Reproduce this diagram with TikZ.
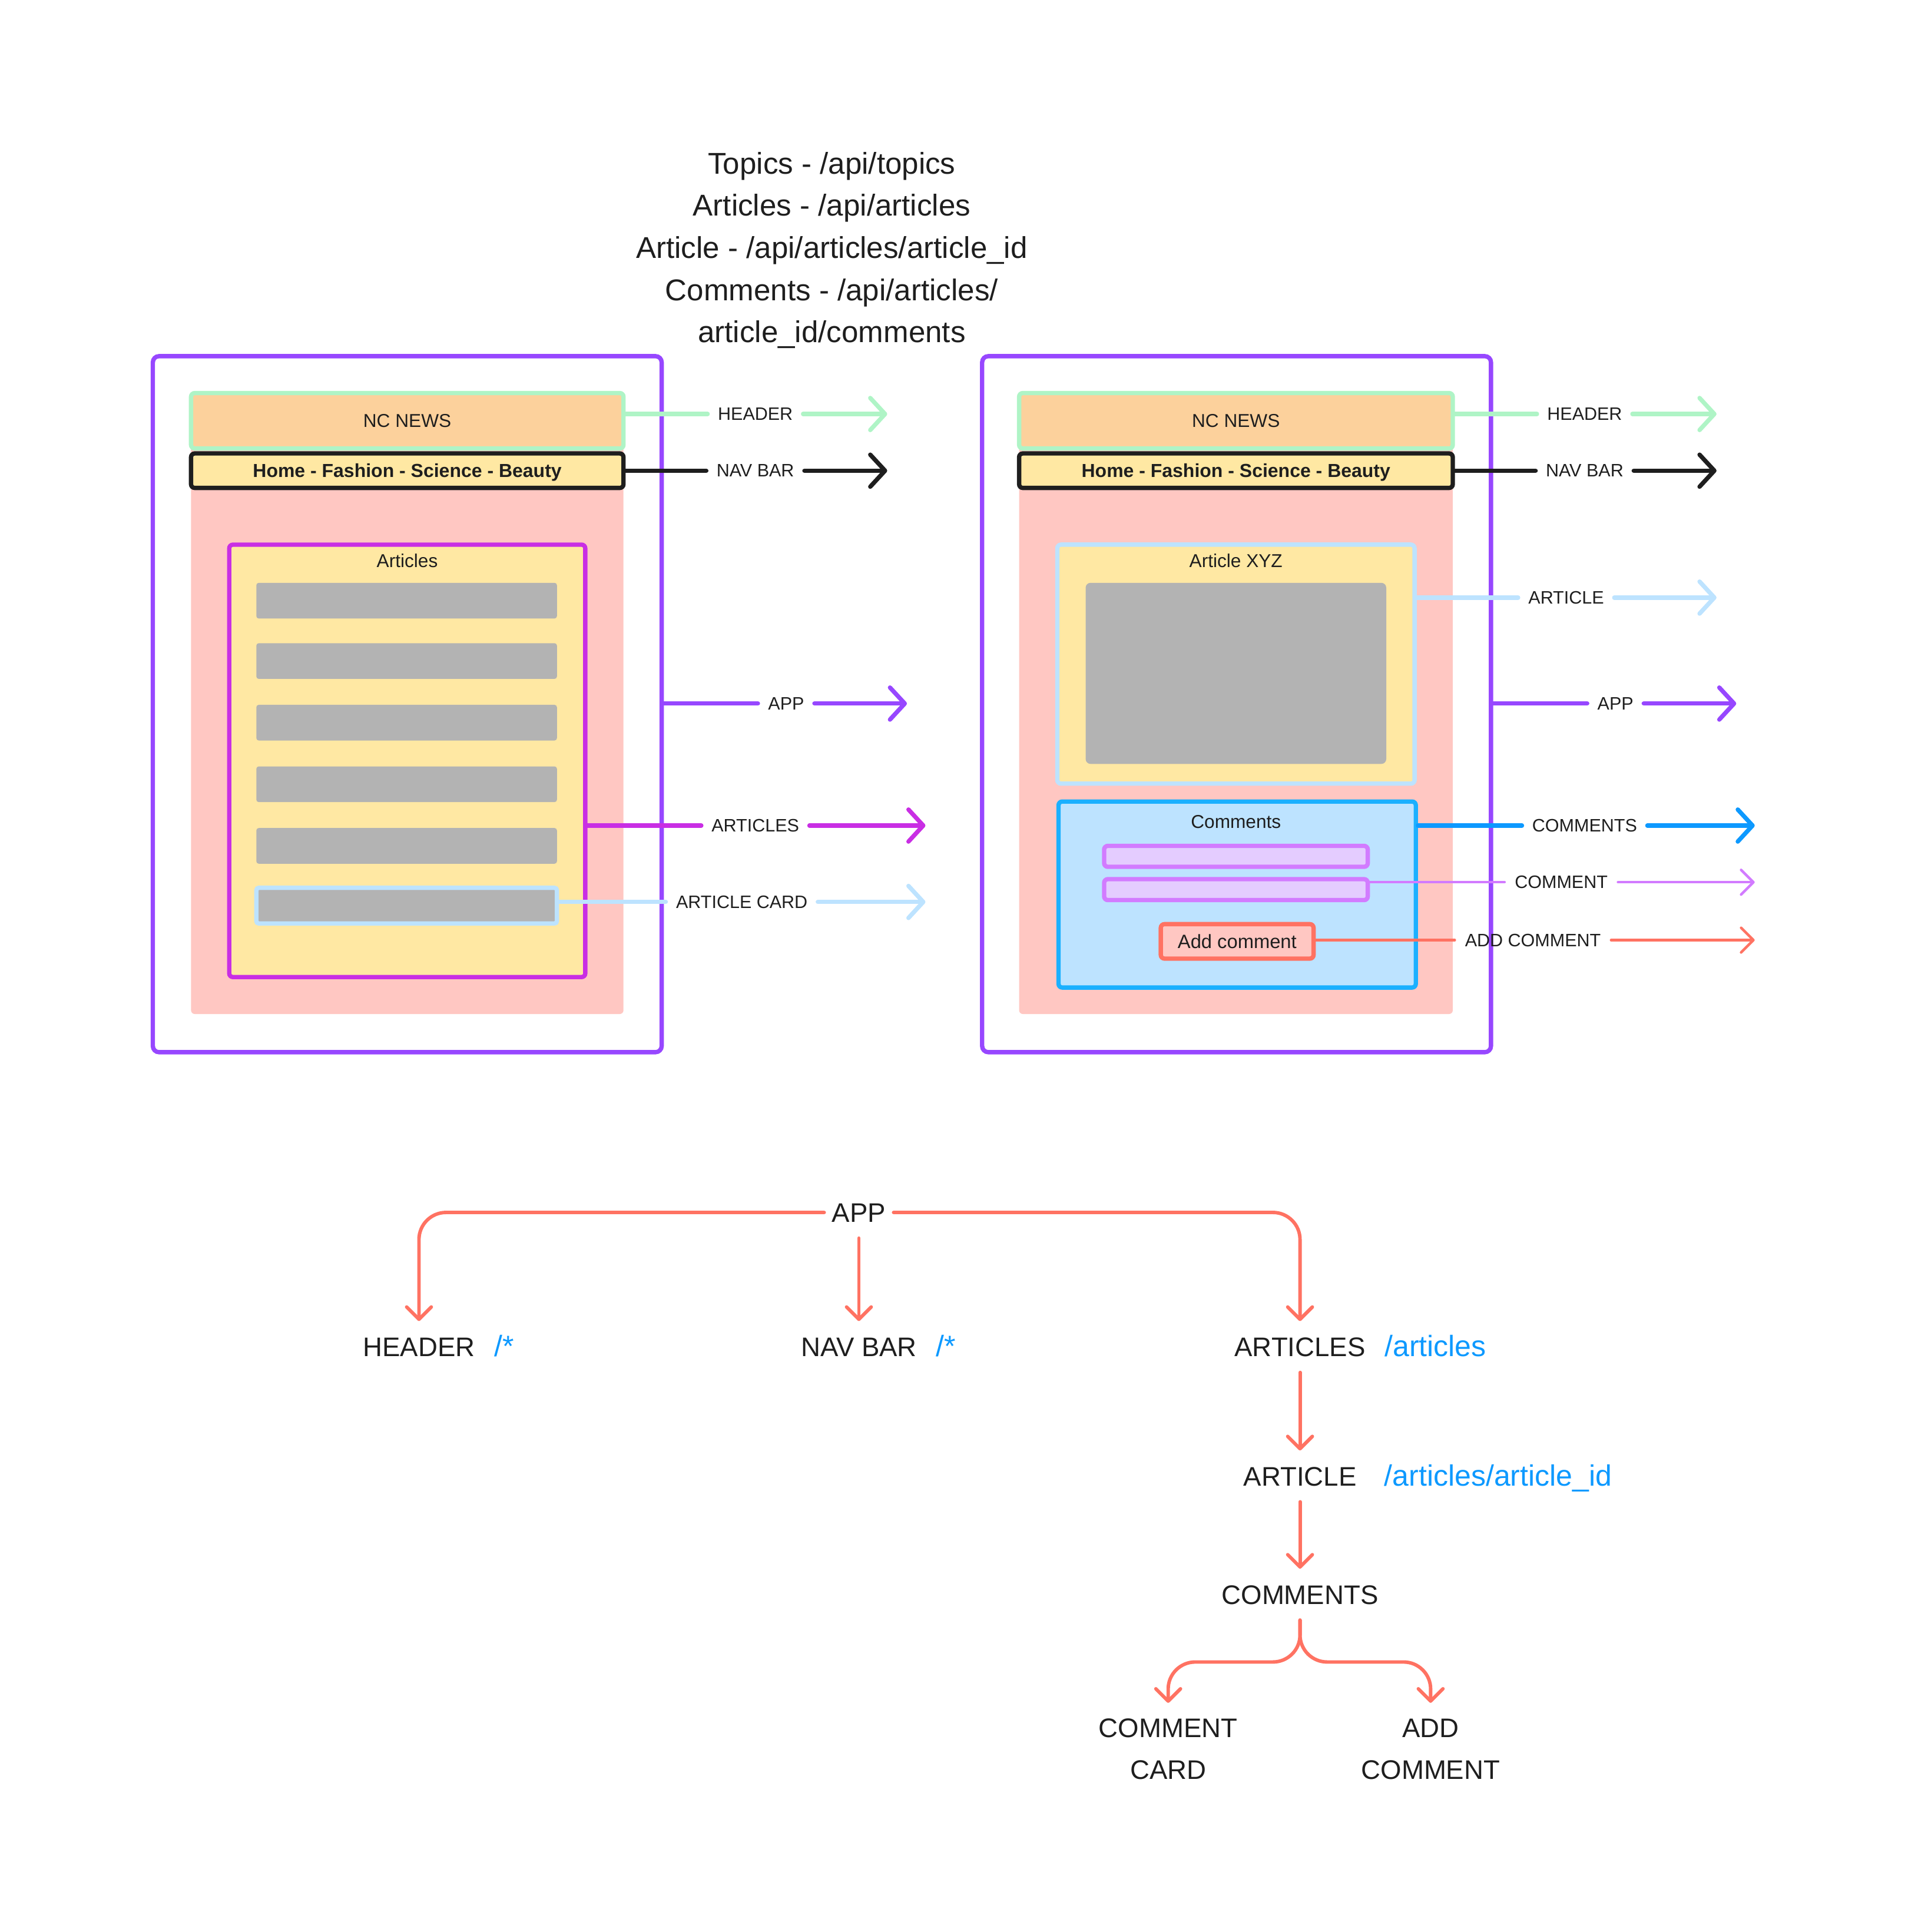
\documentclass[tikz,border=0pt]{standalone}
\usepackage{fontspec}
\setmainfont{Liberation Sans}
\usepackage{tikz}
\usetikzlibrary{arrows.meta}
\usetikzlibrary{positioning}
\usepackage{xcolor}

\definecolor{ink}{HTML}{1E1E1E}
\definecolor{appPurple}{HTML}{9747FF}
\definecolor{mint}{HTML}{AFF4C6}
\definecolor{headOrange}{HTML}{FCD19C}
\definecolor{paleYellow}{HTML}{FFE8A3}
\definecolor{pagePink}{HTML}{FFC7C2}
\definecolor{listMagenta}{HTML}{C92EE4}
\definecolor{cardBlue}{HTML}{BDE3FF}
\definecolor{commsBlue}{HTML}{1BB0FF}
\definecolor{wireBlue}{HTML}{0D99FF}
\definecolor{violet}{HTML}{D27BFF}
\definecolor{paleViolet}{HTML}{E4CCFF}
\definecolor{salmon}{HTML}{FF7262}
\definecolor{barGray}{HTML}{B3B3B3}

\tikzset{
  box/.style={rectangle, rounded corners=0.06cm, inner sep=0pt, line width=2pt, text=ink, font=\fontsize{8.6}{10}\selectfont},
  navtxt/.style={font=\fontsize{8.7}{10}\selectfont\bfseries, text height=0.22cm, text depth=0pt},
  bar/.style={box, fill=barGray, minimum width=4.88cm, minimum height=0.58cm, rounded corners=0.04cm},
  tag/.style={text=ink, font=\fontsize{8.3}{10}\selectfont, inner xsep=0.16cm, inner ysep=0pt},
  wire/.style={line width=2pt, line cap=round, -{Straight Barb[length=0.24cm, width=0.52cm, round]}},
  thinwire/.style={line width=1.2pt, line cap=round, -{Straight Barb[length=0.2cm, width=0.4cm, round]}},
  treetxt/.style={text=ink, font=\fontsize{12.4}{19.3}\selectfont, inner xsep=0.12cm, inner ysep=0.25cm},
  treeone/.style={treetxt, text height=0.32cm, text depth=0cm},
  route/.style={treeone, text=wireBlue, inner xsep=0pt, font=\fontsize{13.6}{19.3}\selectfont},
  branch/.style={salmon, line width=1.6pt, line cap=round, rounded corners=0.44cm, -{Straight Barb[length=0.2cm, width=0.4cm, round]}}
}

\begin{document}
\begin{tikzpicture}[x=0.02cm, y=-0.02cm]
    \useasboundingbox (0,0) rectangle (1548,1568);

    \node[text=ink, font=\fontsize{13.9}{19.5}\selectfont, align=center, anchor=north, inner sep=0pt] (apiList) at (675,123)
        {Topics - /api/topics\\Articles - /api/articles\\Article - /api/articles/article\_id\\Comments - /api/articles/\\article\_id/comments};

    % articles page
    \node[box, draw=appPurple, minimum width=8.26cm, minimum height=11.3cm, rounded corners=0.1cm] (appL) at (330.5,571.5) {};
    \node[box, fill=pagePink, minimum width=7.02cm, minimum height=10.08cm] (pageL) at (330.5,571) {};
    \node[box, fill=headOrange, draw=mint, minimum width=7.02cm, minimum height=0.9cm] (headL) at (330.5,341.5) {NC NEWS};
    \node[box, fill=paleYellow, draw=ink, minimum width=7.02cm, minimum height=0.56cm, navtxt] (navL) at (330.5,382) {Home - Fashion - Science - Beauty};
    \node[box, fill=paleYellow, draw=listMagenta, minimum width=5.78cm, minimum height=7.02cm] (artsL) at (330.5,617.5) {};
    \node[box] (artsTitleL) at (330.5,455) {Articles};
    \foreach \y [count=\i] in {487.5,536.5,586.5,636.5,686.5}
        \node[bar] (barL\i) at (330,\y) {};
    \node[bar, draw=cardBlue] (cardL) at (330,735) {};

    % single article page
    \node[box, draw=appPurple, minimum width=8.26cm, minimum height=11.3cm, rounded corners=0.1cm] (appR) at (1003.5,571.5) {};
    \node[box, fill=pagePink, minimum width=7.04cm, minimum height=10.08cm] (pageR) at (1003,571) {};
    \node[box, fill=headOrange, draw=mint, minimum width=7.04cm, minimum height=0.9cm] (headR) at (1003,341.5) {NC NEWS};
    \node[box, fill=paleYellow, draw=ink, minimum width=7.04cm, minimum height=0.56cm, navtxt] (navR) at (1003,382) {Home - Fashion - Science - Beauty};
    \node[box, fill=paleYellow, draw=cardBlue, minimum width=5.8cm, minimum height=3.88cm] (artR) at (1003,539) {};
    \node[box] (artTitleR) at (1003,455) {Article XYZ};
    \node[box, fill=barGray, minimum width=4.88cm, minimum height=2.94cm, rounded corners=0.08cm] (imgR) at (1003,546.5) {};
    \node[box, fill=cardBlue, draw=commsBlue, minimum width=5.8cm, minimum height=3.02cm] (comsR) at (1004,726) {};
    \node[box] (comsTitleR) at (1003,667) {Comments};
    \node[box, fill=paleViolet, draw=violet, minimum width=4.28cm, minimum height=0.34cm] (com1R) at (1003,695) {};
    \node[box, fill=paleViolet, draw=violet, minimum width=4.28cm, minimum height=0.34cm] (com2R) at (1003,722) {};
    \node[box, fill=pagePink, draw=salmon, minimum width=2.48cm, minimum height=0.56cm, font=\fontsize{8.9}{10}\selectfont] (addR) at (1004,764) {Add comment};

    \node[tag] (hdrTagL) at (613,336) {HEADER};
    \node[tag] (navTagL) at (613,382) {NAV BAR};
    \node[tag] (appTagL) at (638,571) {APP};
    \node[tag] (artsTagL) at (613,670) {ARTICLES};
    \node[tag] (cardTagL) at (602,732) {ARTICLE CARD};
    \coordinate (hdrEndL) at (720,336);
    \coordinate (navEndL) at (720,382);
    \coordinate (appEndL) at (736,571);
    \coordinate (artsEndL) at (751,670);
    \coordinate (cardEndL) at (751,732);

    \draw[wire, mint] (headL.east |- hdrTagL) -- (hdrTagL.west) (hdrTagL.east) -- (hdrEndL);
    \draw[wire, ink] (navL.east |- navTagL) -- (navTagL.west) (navTagL.east) -- (navEndL);
    \draw[wire, appPurple] (appL.east |- appTagL) -- (appTagL.west) (appTagL.east) -- (appEndL);
    \draw[wire, listMagenta] (artsL.east |- artsTagL) -- (artsTagL.west) (artsTagL.east) -- (artsEndL);
    \draw[wire, cardBlue] (cardL.east |- cardTagL) -- (cardTagL.west) (cardTagL.east) -- (cardEndL);

    \node[tag] (hdrTagR) at (1286,336) {HEADER};
    \node[tag] (navTagR) at (1286,382) {NAV BAR};
    \node[tag] (artTagR) at (1271,485) {ARTICLE};
    \node[tag] (appTagR) at (1311,571) {APP};
    \node[tag] (comsTagR) at (1286,670) {COMMENTS};
    \node[tag] (comTagR) at (1267,716) {COMMENT};
    \node[tag] (addTagR) at (1244,763) {ADD COMMENT};
    \coordinate (hdrEndR) at (1393,336);
    \coordinate (navEndR) at (1393,382);
    \coordinate (artEndR) at (1393,485);
    \coordinate (appEndR) at (1409,571);
    \coordinate (comsEndR) at (1424,670);
    \coordinate (comEndR) at (1424,716);
    \coordinate (addEndR) at (1424,763);

    \draw[wire, mint] (headR.east |- hdrTagR) -- (hdrTagR.west) (hdrTagR.east) -- (hdrEndR);
    \draw[wire, ink] (navR.east |- navTagR) -- (navTagR.west) (navTagR.east) -- (navEndR);
    \draw[wire, cardBlue] (artR.east |- artTagR) -- (artTagR.west) (artTagR.east) -- (artEndR);
    \draw[wire, appPurple] (appR.east |- appTagR) -- (appTagR.west) (appTagR.east) -- (appEndR);
    \draw[wire, wireBlue] (comsR.east |- comsTagR) -- (comsTagR.west) (comsTagR.east) -- (comsEndR);
    \draw[thinwire, violet] (com2R.east |- comTagR) -- (comTagR.west) (comTagR.east) -- (comEndR);
    \draw[thinwire, salmon] (addR.east |- addTagR) -- (addTagR.west) (addTagR.east) -- (addEndR);

    % component tree
    \node[treeone] (tApp) at (697,984) {APP};
    \node[treeone] (tHeader) at (340,1093) {HEADER};
    \node[route, right=0.18cm of tHeader] (rHeader) {/*};
    \node[treeone] (tNav) at (697,1093) {NAV BAR};
    \node[route, right=0.18cm of tNav] (rNav) {/*};
    \node[treeone] (tArts) at (1055,1093) {ARTICLES};
    \node[route, right=0.18cm of tArts] (rArts) {/articles};
    \node[treeone] (tArt) at (1055,1198) {ARTICLE};
    \node[route, right=0.32cm of tArt] (rArt) {/articles/article\_id};
    \node[treeone] (tComs) at (1055,1294) {COMMENTS};
    \node[treetxt, align=center, anchor=north] (tCard) at (948,1382) {COMMENT\\CARD};
    \node[treetxt, align=center, anchor=north] (tAdd) at (1161,1382) {ADD\\COMMENT};

    \draw[branch] (tApp.west) -| (tHeader.north);
    \draw[branch] (tApp.east) -| (tArts.north);
    \draw[branch] (tApp.south) -- (tNav.north);
    \draw[branch] (tArts.south) -- (tArt.north);
    \draw[branch] (tArt.south) -- (tComs.north);
    \draw[branch] (tComs.south) -- ++(0,34) -| (tCard.north);
    \draw[branch] (tComs.south) -- ++(0,34) -| (tAdd.north);

\end{tikzpicture}
\end{document}
